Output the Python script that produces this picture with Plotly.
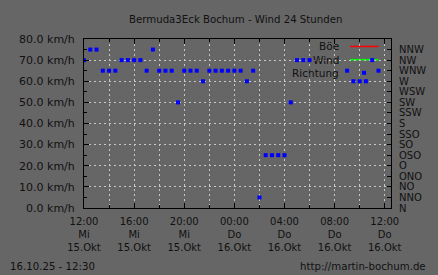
import plotly.graph_objects as go

# ---- data ----
times = [
    "2025-10-15 12:00", "2025-10-15 12:30", "2025-10-15 13:00", "2025-10-15 13:30",
    "2025-10-15 14:00", "2025-10-15 14:30", "2025-10-15 15:00", "2025-10-15 15:30",
    "2025-10-15 16:00", "2025-10-15 16:30", "2025-10-15 17:00", "2025-10-15 17:30",
    "2025-10-15 18:00", "2025-10-15 18:30", "2025-10-15 19:00", "2025-10-15 19:30",
    "2025-10-15 20:00", "2025-10-15 20:30", "2025-10-15 21:00", "2025-10-15 21:30",
    "2025-10-15 22:00", "2025-10-15 22:30", "2025-10-15 23:00", "2025-10-15 23:30",
    "2025-10-16 00:00", "2025-10-16 00:30", "2025-10-16 01:00", "2025-10-16 01:30",
    "2025-10-16 02:00", "2025-10-16 02:30", "2025-10-16 03:00", "2025-10-16 03:30",
    "2025-10-16 04:00", "2025-10-16 04:30", "2025-10-16 05:00", "2025-10-16 05:30",
    "2025-10-16 06:00", "2025-10-16 06:30", "2025-10-16 07:00", "2025-10-16 07:30",
    "2025-10-16 08:00", "2025-10-16 08:30", "2025-10-16 09:00", "2025-10-16 09:30",
    "2025-10-16 10:00", "2025-10-16 10:30", "2025-10-16 11:00", "2025-10-16 11:30",
]
# wind direction in degrees (None = no reading)
richtung_deg = [
    315, 337.5, 337.5, 292.5, 292.5, 292.5, 315, 315,
    315, 315, 292.5, 337.5, 292.5, 292.5, 292.5, 225,
    292.5, 292.5, 292.5, 270, 292.5, 292.5, 292.5, 292.5,
    292.5, 292.5, 270, 292.5, 22.5, 112.5, 112.5, 112.5,
    112.5, 225, 315, 315, 315, None, None, None,
    None, None, 292.5, 270, 270, 270, 315, 292.5,
]
# gust and wind speed (km/h) - no readings shown in this chart
boe_kmh = []
wind_kmh = []
boe_times = []
wind_times = []

x_tickvals = ["2025-10-15 12:00", "2025-10-15 16:00", "2025-10-15 20:00",
              "2025-10-16 00:00", "2025-10-16 04:00", "2025-10-16 08:00",
              "2025-10-16 12:00"]
x_ticktext = ["12:00<br>Mi<br>15.Okt", "16:00<br>Mi<br>15.Okt", "20:00<br>Mi<br>15.Okt",
              "00:00<br>Do<br>16.Okt", "04:00<br>Do<br>16.Okt", "08:00<br>Do<br>16.Okt",
              "12:00<br>Do<br>16.Okt"]
dir_tickvals = [0, 22.5, 45, 67.5, 90, 112.5, 135, 157.5, 180, 202.5, 225, 247.5,
                270, 292.5, 315, 337.5]
dir_ticktext = ["N", "NNO", "NO", "ONO", "O", "OSO", "SO", "SSO", "S", "SSW", "SW",
                "WSW", "W", "WNW", "NW", "NNW"]

# ---- styling ----
BG = "#666666"
GRID = "#c8c8c8"
FONT = "DejaVu Sans"
TXT = "#111111"

W, H = 438, 275
L, R, T, B = 83.5, 42.3, 38.5, 66.5
pw, ph = W - L - R, H - T - B

def px(xp):
    return (xp - L) / pw

def py(yp):
    return (H - B - yp) / ph

fig = go.Figure()
fig.add_trace(go.Scatter(x=boe_times, y=boe_kmh, mode="lines", name="Böe",
                         line=dict(color="#ff0000", width=1), showlegend=False))
fig.add_trace(go.Scatter(x=wind_times, y=wind_kmh, mode="lines", name="Wind",
                         line=dict(color="#00ff00", width=1), showlegend=False))
fig.add_trace(go.Scatter(x=times, y=richtung_deg, mode="markers", name="Richtung",
                         yaxis="y2",
                         marker=dict(symbol="square", size=4, color="#0000ff",
                                     line=dict(width=0)),
                         showlegend=False))

fig.update_layout(
    width=W, height=H,
    margin=dict(l=L, r=R, t=T, b=B, pad=0),
    paper_bgcolor=BG, plot_bgcolor=BG,
    font=dict(family=FONT, size=11, color=TXT),
    showlegend=False,
    xaxis=dict(
        type="date",
        range=["2025-10-15 12:00", "2025-10-16 12:30"],
        tickmode="array", tickvals=x_tickvals, ticktext=x_ticktext,
        ticks="inside", ticklen=5, tickcolor="black", tickwidth=1,
        showline=True, linecolor="black", linewidth=1, mirror="ticks",
        showgrid=True, gridcolor=GRID, griddash="2px,3px", gridwidth=1,
        tickfont=dict(size=10), ticklabelstandoff=4,
        minor=dict(dtick=2 * 3600 * 1000, tick0="2025-10-15 12:00",
                   ticks="inside", ticklen=3, tickcolor="black",
                   showgrid=True, gridcolor=GRID, griddash="2px,3px", gridwidth=1),
        zeroline=False,
    ),
    yaxis=dict(
        range=[0, 80], tickmode="linear", tick0=0, dtick=10,
        tickformat=".1f", ticksuffix=" km/h",
        ticks="inside", ticklen=5, tickcolor="black",
        showline=True, linecolor="black", linewidth=1,
        showgrid=True, gridcolor=GRID, griddash="2px,3px", gridwidth=1,
        minor=dict(dtick=5, ticks="inside", ticklen=3, tickcolor="black",
                   showgrid=False),
        zeroline=False, ticklabelstandoff=6,
    ),
    yaxis2=dict(
        overlaying="y", side="right", range=[0, 360],
        tickmode="array", tickvals=dir_tickvals, ticktext=dir_ticktext,
        ticks="inside", ticklen=4, tickcolor="black",
        showline=True, linecolor="black", linewidth=1,
        showgrid=False, zeroline=False, ticklabelstandoff=5,
        tickfont=dict(size=10),
    ),
)

# legend (gnuplot style: text right-aligned, sample to the right)
leg_rows = [("Böe", 46.0), ("Wind", 59.3), ("Richtung", 72.5)]
for txt, yp in leg_rows:
    fig.add_annotation(x=px(344), y=py(yp), xref="paper", yref="paper",
                       text=txt, showarrow=False, xanchor="right", yanchor="middle",
                       font=dict(size=10.5, color=TXT), borderpad=0)
fig.add_shape(type="line", xref="paper", yref="paper",
              x0=px(354), x1=px(383), y0=py(46), y1=py(46),
              line=dict(color="#ff0000", width=1.5), layer="above")
fig.add_shape(type="line", xref="paper", yref="paper",
              x0=px(354), x1=px(383), y0=py(59.3), y1=py(59.3),
              line=dict(color="#00ff00", width=1.5), layer="below")
fig.add_shape(type="rect", xref="paper", yref="paper",
              xsizemode="pixel", ysizemode="pixel",
              xanchor=px(368.3), yanchor=py(72.5),
              x0=-2, x1=2, y0=-2, y1=2,
              fillcolor="#0000ff", line=dict(width=0), layer="above")

# title and footer texts
fig.add_annotation(x=px(238), y=py(19), xref="paper", yref="paper",
                   text="Bermuda3Eck Bochum - Wind 24 Stunden", showarrow=False,
                   xanchor="center", yanchor="middle", font=dict(size=10.2, color=TXT))
fig.add_annotation(x=px(6), y=py(267), xref="paper", yref="paper",
                   text="16.10.25 - 12:30", showarrow=False,
                   xanchor="left", yanchor="middle", font=dict(size=10.2, color=TXT))
fig.add_annotation(x=px(433), y=py(267), xref="paper", yref="paper",
                   text="http://martin-bochum.de", showarrow=False,
                   xanchor="right", yanchor="middle", font=dict(size=10.2, color=TXT))

fig.write_html("out.html")
